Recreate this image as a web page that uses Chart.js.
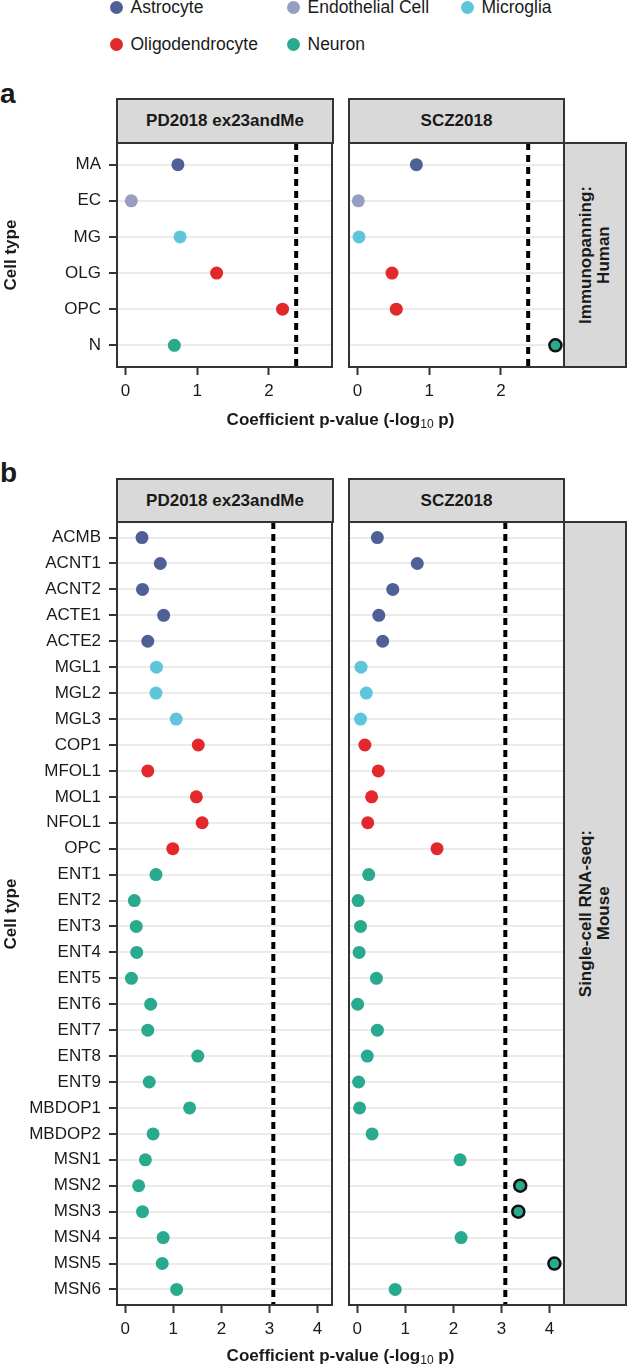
<!DOCTYPE html>
<html>
<head>
<meta charset="utf-8">
<script src="https://cdn.jsdelivr.net/npm/chart.js@4.4.1/dist/chart.umd.min.js"></script>
<style>
  body { margin: 0; background: #fff; width: 630px; height: 1367px; position: relative; overflow: hidden;
         font-family: "Liberation Sans", Arial, sans-serif; color: #1a1a1a; }
  canvas { position: absolute; }
  .strip { position: absolute; box-sizing: border-box; background: #d9d9d9; border: 2px solid #333;
           display: flex; align-items: center; justify-content: center; font-weight: bold; font-size: 17px; }
  .vstrip span { writing-mode: vertical-rl; transform: rotate(180deg); text-align: center; line-height: 18px; }
  .legend-item { position: absolute; display: flex; align-items: center; height: 20px; font-size: 17.5px; white-space: nowrap; }
  .dot { width: 13px; height: 13px; border-radius: 50%; margin-right: 8px; }
  .ytitle { position: absolute; width: 200px; height: 20px; line-height: 20px; text-align: center;
            font-weight: bold; font-size: 17px; transform: rotate(-90deg); }
  .xtitle { position: absolute; left: 117px; width: 447px; height: 20px; line-height: 20px; text-align: center;
            font-weight: bold; font-size: 17px; white-space: nowrap; }
  .xtitle sub { font-size: 12px; font-weight: normal; vertical-align: -3px; line-height: 0; }
  .tag { position: absolute; left: 0; font-weight: bold; font-size: 28px; line-height: 28px; }
</style>
</head>
<body>
<div class="tag" style="top: 80px;">a</div>
<div class="tag" style="top: 459px;">b</div>

<div class="strip" style="left: 116px; top: 98px; width: 218px; height: 46px;">PD2018 ex23andMe</div>
<div class="strip" style="left: 348px; top: 98px; width: 217px; height: 46px;">SCZ2018</div>
<div class="strip vstrip" style="left: 563px; top: 142px; width: 64px; height: 226px;"><span>Immunopanning:<br>Human</span></div>

<div class="strip" style="left: 116px; top: 478px; width: 218px; height: 45px;">PD2018 ex23andMe</div>
<div class="strip" style="left: 348px; top: 478px; width: 217px; height: 45px;">SCZ2018</div>
<div class="strip vstrip" style="left: 563px; top: 521px; width: 64px; height: 785px;"><span>Single-cell RNA-seq:<br>Mouse</span></div>

<canvas id="pdA" width="335" height="272" style="left: 0px; top: 140px;"></canvas>
<canvas id="sczA" width="221" height="272" style="left: 346px; top: 140px;"></canvas>
<canvas id="pdB" width="335" height="831" style="left: 0px; top: 519px;"></canvas>
<canvas id="sczB" width="221" height="831" style="left: 346px; top: 519px;"></canvas>

<div class="ytitle" style="left: -89px; top: 245px;">Cell type</div>
<div class="ytitle" style="left: -89px; top: 904px;">Cell type</div>
<div class="xtitle" style="top: 410px;">Coefficient p-value (-log<sub>10</sub> p)</div>
<div class="xtitle" style="top: 1346px;">Coefficient p-value (-log<sub>10</sub> p)</div>

<script>
const groupNames = ['Astrocyte', 'Endothelial Cell', 'Microglia', 'Oligodendrocyte', 'Neuron'];
const groupColors = ['#4f6096', '#979ec2', '#5fc5dc', '#e2282b', '#29a98e'];

// a: immunopanning, human
const cellTypesA = ['MA', 'EC', 'MG', 'OLG', 'OPC', 'N'];
const cellGroupsA = ['Astrocyte', 'Endothelial Cell', 'Microglia', 'Oligodendrocyte', 'Oligodendrocyte', 'Neuron'];
const pdValuesA = [0.73, 0.08, 0.76, 1.27, 2.19, 0.68];
const sczValuesA = [0.82, 0.01, 0.02, 0.48, 0.54, 2.76];
const thresholdA = 2.38;
const xTicksA = [0, 1, 2];
const xRangeA = [-0.12, 2.88];

// b: single-cell RNA-seq, mouse
const cellTypesB = ['ACMB', 'ACNT1', 'ACNT2', 'ACTE1', 'ACTE2', 'MGL1', 'MGL2', 'MGL3', 'COP1', 'MFOL1',
    'MOL1', 'NFOL1', 'OPC', 'ENT1', 'ENT2', 'ENT3', 'ENT4', 'ENT5', 'ENT6', 'ENT7', 'ENT8', 'ENT9',
    'MBDOP1', 'MBDOP2', 'MSN1', 'MSN2', 'MSN3', 'MSN4', 'MSN5', 'MSN6'];
const cellGroupsB = ['Astrocyte', 'Astrocyte', 'Astrocyte', 'Astrocyte', 'Astrocyte',
    'Microglia', 'Microglia', 'Microglia',
    'Oligodendrocyte', 'Oligodendrocyte', 'Oligodendrocyte', 'Oligodendrocyte', 'Oligodendrocyte',
    'Neuron', 'Neuron', 'Neuron', 'Neuron', 'Neuron', 'Neuron', 'Neuron', 'Neuron', 'Neuron',
    'Neuron', 'Neuron', 'Neuron', 'Neuron', 'Neuron', 'Neuron', 'Neuron', 'Neuron'];
const pdValuesB = [0.35, 0.73, 0.36, 0.80, 0.47, 0.65, 0.64, 1.06, 1.52, 0.47,
    1.48, 1.60, 0.99, 0.64, 0.19, 0.23, 0.24, 0.13, 0.53, 0.47, 1.51, 0.50,
    1.34, 0.58, 0.42, 0.28, 0.36, 0.79, 0.77, 1.07];
const sczValuesB = [0.42, 1.25, 0.74, 0.45, 0.53, 0.08, 0.19, 0.07, 0.16, 0.44,
    0.30, 0.22, 1.66, 0.24, 0.02, 0.07, 0.04, 0.40, 0.01, 0.42, 0.21, 0.03,
    0.05, 0.31, 2.14, 3.39, 3.35, 2.16, 4.10, 0.79];
const thresholdB = 3.08;
const xTicksB = [0, 1, 2, 3, 4];
const xRangeB = [-0.17, 4.30];

// legend (2 rows, filled by row)
const legendCols = [116, 293, 467];
const legendRows = [7.5, 44];
groupNames.forEach(function(name, i) {
    const item = document.createElement('div');
    item.className = 'legend-item';
    item.style.left = (legendCols[i % 3] - 6.5) + 'px';
    item.style.top = (legendRows[Math.floor(i / 3)] - 10) + 'px';
    item.innerHTML = `<span class="dot" style="background:${groupColors[i]}"></span><span>${name}</span>`;
    document.body.appendChild(item);
});

const panelBorder = {
    id: 'panelBorder',
    afterDraw(chart) {
        const { ctx, chartArea: a } = chart;
        ctx.save();
        ctx.strokeStyle = '#333';
        ctx.lineWidth = 2;
        ctx.strokeRect(a.left, a.top, a.right - a.left, a.bottom - a.top);
        ctx.restore();
    }
};

const tickFont = { family: "'Liberation Sans', Arial, sans-serif", size: 17 };

function colorOf(groups, i) {
    return groupColors[groupNames.indexOf(groups[i])];
}

function makePanel(id, cellTypes, cellGroups, values, threshold, xRange, xTicks, showY) {
    const n = cellTypes.length;
    const hit = (i) => values[i] > threshold;
    return new Chart(document.getElementById(id), {
        type: 'scatter',
        data: {
            datasets: [
                {
                    data: values.map((v, i) => ({ x: v, y: i })),
                    order: 1,
                    pointRadius: (c) => hit(c.dataIndex) ? 6 : 6.5,
                    pointHoverRadius: (c) => hit(c.dataIndex) ? 6 : 6.5,
                    pointBackgroundColor: (c) => colorOf(cellGroups, c.dataIndex),
                    pointBorderColor: (c) => hit(c.dataIndex) ? '#111' : colorOf(cellGroups, c.dataIndex),
                    pointBorderWidth: (c) => hit(c.dataIndex) ? 2.5 : 0
                },
                {
                    type: 'line',
                    data: [{ x: threshold, y: -0.6 }, { x: threshold, y: n - 0.4 }],
                    order: 2,
                    borderColor: '#000',
                    borderWidth: 4,
                    borderDash: [7, 5],
                    pointRadius: 0,
                    fill: false
                }
            ]
        },
        options: {
            responsive: false,
            animation: false,
            events: [],
            layout: { autoPadding: false, padding: { top: 3, right: 3, bottom: 0, left: showY ? 0 : 3 } },
            plugins: { legend: { display: false }, tooltip: { enabled: false } },
            scales: {
                x: {
                    type: 'linear',
                    min: xRange[0],
                    max: xRange[1],
                    afterBuildTicks: (s) => { s.ticks = xTicks.map(v => ({ value: v })); },
                    afterFit: (s) => {
                        s.height = 45;
                        s.paddingLeft = 0; s.paddingRight = 0; s.paddingTop = 0; s.paddingBottom = 0;
                    },
                    grid: { drawOnChartArea: false, drawTicks: true, tickLength: 8, tickColor: '#333', tickWidth: 2 },
                    border: { display: false },
                    ticks: { font: tickFont, color: '#1a1a1a', padding: 6, maxRotation: 0, autoSkip: false,
                             callback: (v) => String(v) }
                },
                y: {
                    type: 'linear',
                    reverse: true,
                    min: -0.6,
                    max: n - 0.4,
                    afterBuildTicks: (s) => { s.ticks = cellTypes.map((_, i) => ({ value: i })); },
                    afterFit: (s) => {
                        s.width = showY ? 117 : 0;
                        s.paddingLeft = 0; s.paddingRight = 0; s.paddingTop = 0; s.paddingBottom = 0;
                    },
                    grid: { color: '#ebebeb', lineWidth: 2, drawTicks: showY, tickLength: 8, tickColor: '#333', tickWidth: 2 },
                    border: { display: false },
                    ticks: { display: showY, font: tickFont, color: '#1a1a1a', padding: 8, autoSkip: false,
                             callback: (v) => cellTypes[v] }
                }
            }
        },
        plugins: [panelBorder]
    });
}

makePanel('pdA', cellTypesA, cellGroupsA, pdValuesA, thresholdA, xRangeA, xTicksA, true);
makePanel('sczA', cellTypesA, cellGroupsA, sczValuesA, thresholdA, xRangeA, xTicksA, false);
makePanel('pdB', cellTypesB, cellGroupsB, pdValuesB, thresholdB, xRangeB, xTicksB, true);
makePanel('sczB', cellTypesB, cellGroupsB, sczValuesB, thresholdB, xRangeB, xTicksB, false);
</script>
</body>
</html>
